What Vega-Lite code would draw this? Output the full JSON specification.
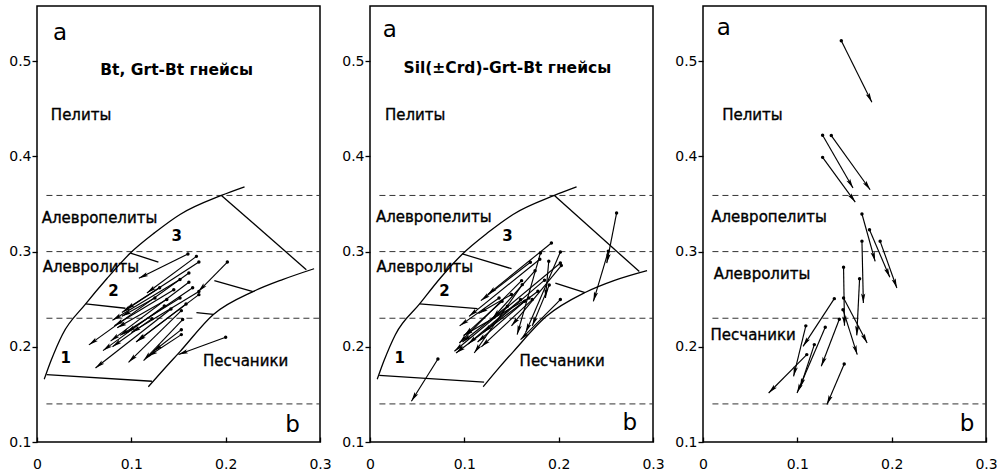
{
  "$schema": "https://vega.github.io/schema/vega-lite/v6.json",
  "background": "white",
  "padding": {"left": 7, "top": 5, "right": 0, "bottom": 0},
  "config": {
    "font": "DejaVu Sans",
    "view": {"stroke": "black", "strokeWidth": 1.5},
    "axis": {"grid": false, "domain": false, "title": null, "labelColor": "black", "tickColor": "black", "labelFont": "DejaVu Sans", "labelFontSize": 14, "tickWidth": 1.3}
  },
  "data": {"values": [
    {"panel": "p1", "kind": "dash", "x": 0.01, "x2": 0.3, "y": 0.359},
    {"panel": "p1", "kind": "dash", "x": 0.01, "x2": 0.3, "y": 0.3},
    {"panel": "p1", "kind": "dash", "x": 0.01, "x2": 0.165, "y": 0.23},
    {"panel": "p1", "kind": "dash", "x": 0.187, "x2": 0.3, "y": 0.23},
    {"panel": "p1", "kind": "dash", "x": 0.01, "x2": 0.3, "y": 0.14},
    {"panel": "p2", "kind": "dash", "x": 0.01, "x2": 0.3, "y": 0.359},
    {"panel": "p2", "kind": "dash", "x": 0.01, "x2": 0.3, "y": 0.3},
    {"panel": "p2", "kind": "dash", "x": 0.01, "x2": 0.3, "y": 0.23},
    {"panel": "p2", "kind": "dash", "x": 0.01, "x2": 0.3, "y": 0.14},
    {"panel": "p3", "kind": "dash", "x": 0.01, "x2": 0.3, "y": 0.359},
    {"panel": "p3", "kind": "dash", "x": 0.01, "x2": 0.3, "y": 0.3},
    {"panel": "p3", "kind": "dash", "x": 0.01, "x2": 0.167, "y": 0.23},
    {"panel": "p3", "kind": "dash", "x": 0.179, "x2": 0.3, "y": 0.23},
    {"panel": "p3", "kind": "dash", "x": 0.01, "x2": 0.3, "y": 0.14},

    {"panel": "p1", "kind": "poly", "seg": "up", "ord": 1, "x": 0.0077, "y": 0.166},
    {"panel": "p1", "kind": "poly", "seg": "up", "ord": 2, "x": 0.0147, "y": 0.185},
    {"panel": "p1", "kind": "poly", "seg": "up", "ord": 3, "x": 0.027, "y": 0.213},
    {"panel": "p1", "kind": "poly", "seg": "up", "ord": 4, "x": 0.0516, "y": 0.245},
    {"panel": "p1", "kind": "poly", "seg": "up", "ord": 5, "x": 0.0744, "y": 0.272},
    {"panel": "p1", "kind": "poly", "seg": "up", "ord": 6, "x": 0.099, "y": 0.2985},
    {"panel": "p1", "kind": "poly", "seg": "up", "ord": 7, "x": 0.125, "y": 0.32},
    {"panel": "p1", "kind": "poly", "seg": "up", "ord": 8, "x": 0.1516, "y": 0.339},
    {"panel": "p1", "kind": "poly", "seg": "up", "ord": 9, "x": 0.1955, "y": 0.359},
    {"panel": "p1", "kind": "poly", "seg": "up", "ord": 10, "x": 0.22, "y": 0.368},
    {"panel": "p1", "kind": "poly", "seg": "bot", "ord": 1, "x": 0.0102, "y": 0.1708},
    {"panel": "p1", "kind": "poly", "seg": "bot", "ord": 2, "x": 0.1218, "y": 0.1638},
    {"panel": "p1", "kind": "poly", "seg": "low", "ord": 1, "x": 0.118, "y": 0.158},
    {"panel": "p1", "kind": "poly", "seg": "low", "ord": 2, "x": 0.135, "y": 0.177},
    {"panel": "p1", "kind": "poly", "seg": "low", "ord": 3, "x": 0.1516, "y": 0.195},
    {"panel": "p1", "kind": "poly", "seg": "low", "ord": 4, "x": 0.187, "y": 0.234},
    {"panel": "p1", "kind": "poly", "seg": "low", "ord": 5, "x": 0.229, "y": 0.258},
    {"panel": "p1", "kind": "poly", "seg": "low", "ord": 6, "x": 0.2603, "y": 0.2706},
    {"panel": "p1", "kind": "poly", "seg": "low", "ord": 7, "x": 0.2937, "y": 0.282},
    {"panel": "p1", "kind": "poly", "seg": "right", "ord": 1, "x": 0.1955, "y": 0.359},
    {"panel": "p1", "kind": "poly", "seg": "right", "ord": 2, "x": 0.2855, "y": 0.281},
    {"panel": "p1", "kind": "poly", "seg": "d1", "ord": 1, "x": 0.099, "y": 0.2985},
    {"panel": "p1", "kind": "poly", "seg": "d1", "ord": 2, "x": 0.1287, "y": 0.289},
    {"panel": "p1", "kind": "poly", "seg": "d2", "ord": 1, "x": 0.0516, "y": 0.245},
    {"panel": "p1", "kind": "poly", "seg": "d2", "ord": 2, "x": 0.0937, "y": 0.2405},
    {"panel": "p1", "kind": "poly", "seg": "d3", "ord": 1, "x": 0.229, "y": 0.258},
    {"panel": "p1", "kind": "poly", "seg": "d3", "ord": 2, "x": 0.188, "y": 0.2695},
    {"panel": "p1", "kind": "poly", "seg": "d4", "ord": 1, "x": 0.187, "y": 0.234},
    {"panel": "p1", "kind": "poly", "seg": "d4", "ord": 2, "x": 0.169, "y": 0.236},

    {"panel": "p2", "kind": "poly", "seg": "up", "ord": 1, "x": 0.0077, "y": 0.166},
    {"panel": "p2", "kind": "poly", "seg": "up", "ord": 2, "x": 0.0147, "y": 0.185},
    {"panel": "p2", "kind": "poly", "seg": "up", "ord": 3, "x": 0.027, "y": 0.213},
    {"panel": "p2", "kind": "poly", "seg": "up", "ord": 4, "x": 0.0526, "y": 0.245},
    {"panel": "p2", "kind": "poly", "seg": "up", "ord": 5, "x": 0.0744, "y": 0.272},
    {"panel": "p2", "kind": "poly", "seg": "up", "ord": 6, "x": 0.098, "y": 0.2975},
    {"panel": "p2", "kind": "poly", "seg": "up", "ord": 7, "x": 0.125, "y": 0.32},
    {"panel": "p2", "kind": "poly", "seg": "up", "ord": 8, "x": 0.1516, "y": 0.339},
    {"panel": "p2", "kind": "poly", "seg": "up", "ord": 9, "x": 0.1955, "y": 0.359},
    {"panel": "p2", "kind": "poly", "seg": "up", "ord": 10, "x": 0.219, "y": 0.368},
    {"panel": "p2", "kind": "poly", "seg": "bot", "ord": 1, "x": 0.0098, "y": 0.17},
    {"panel": "p2", "kind": "poly", "seg": "bot", "ord": 2, "x": 0.121, "y": 0.163},
    {"panel": "p2", "kind": "poly", "seg": "low", "ord": 1, "x": 0.12, "y": 0.158},
    {"panel": "p2", "kind": "poly", "seg": "low", "ord": 2, "x": 0.136, "y": 0.177},
    {"panel": "p2", "kind": "poly", "seg": "low", "ord": 3, "x": 0.152, "y": 0.195},
    {"panel": "p2", "kind": "poly", "seg": "low", "ord": 4, "x": 0.187, "y": 0.232},
    {"panel": "p2", "kind": "poly", "seg": "low", "ord": 5, "x": 0.228, "y": 0.257},
    {"panel": "p2", "kind": "poly", "seg": "low", "ord": 6, "x": 0.26, "y": 0.27},
    {"panel": "p2", "kind": "poly", "seg": "low", "ord": 7, "x": 0.2937, "y": 0.28},
    {"panel": "p2", "kind": "poly", "seg": "right", "ord": 1, "x": 0.1955, "y": 0.359},
    {"panel": "p2", "kind": "poly", "seg": "right", "ord": 2, "x": 0.2855, "y": 0.279},
    {"panel": "p2", "kind": "poly", "seg": "d1", "ord": 1, "x": 0.098, "y": 0.2975},
    {"panel": "p2", "kind": "poly", "seg": "d1", "ord": 2, "x": 0.15, "y": 0.282},
    {"panel": "p2", "kind": "poly", "seg": "d2", "ord": 1, "x": 0.0526, "y": 0.245},
    {"panel": "p2", "kind": "poly", "seg": "d2", "ord": 2, "x": 0.114, "y": 0.24},
    {"panel": "p2", "kind": "poly", "seg": "d3", "ord": 1, "x": 0.228, "y": 0.257},
    {"panel": "p2", "kind": "poly", "seg": "d3", "ord": 2, "x": 0.1965, "y": 0.267},

    {"panel": "p1", "kind": "arrow", "x": 0.160, "y": 0.2975, "x2": 0.108, "y2": 0.272},
    {"panel": "p1", "kind": "arrow", "x": 0.169, "y": 0.295, "x2": 0.1165, "y2": 0.2565},
    {"panel": "p1", "kind": "arrow", "x": 0.1716, "y": 0.289, "x2": 0.0937, "y2": 0.239},
    {"panel": "p1", "kind": "arrow", "x": 0.2018, "y": 0.289, "x2": 0.171, "y2": 0.258},
    {"panel": "p1", "kind": "arrow", "x": 0.161, "y": 0.2775, "x2": 0.055, "y2": 0.202},
    {"panel": "p1", "kind": "arrow", "x": 0.1516, "y": 0.2706, "x2": 0.080, "y2": 0.228},
    {"panel": "p1", "kind": "arrow", "x": 0.161, "y": 0.2678, "x2": 0.078, "y2": 0.206},
    {"panel": "p1", "kind": "arrow", "x": 0.1716, "y": 0.258, "x2": 0.100, "y2": 0.215},
    {"panel": "p1", "kind": "arrow", "x": 0.1716, "y": 0.2548, "x2": 0.106, "y2": 0.206},
    {"panel": "p1", "kind": "arrow", "x": 0.1516, "y": 0.2513, "x2": 0.088, "y2": 0.212},
    {"panel": "p1", "kind": "arrow", "x": 0.1376, "y": 0.2496, "x2": 0.085, "y2": 0.220},
    {"panel": "p1", "kind": "arrow", "x": 0.125, "y": 0.2513, "x2": 0.090, "y2": 0.232},
    {"panel": "p1", "kind": "arrow", "x": 0.153, "y": 0.238, "x2": 0.097, "y2": 0.1837},
    {"panel": "p1", "kind": "arrow", "x": 0.142, "y": 0.2397, "x2": 0.062, "y2": 0.1777},
    {"panel": "p1", "kind": "arrow", "x": 0.122, "y": 0.2296, "x2": 0.080, "y2": 0.200},
    {"panel": "p1", "kind": "arrow", "x": 0.1544, "y": 0.2286, "x2": 0.113, "y2": 0.1855},
    {"panel": "p1", "kind": "arrow", "x": 0.153, "y": 0.218, "x2": 0.1235, "y2": 0.1953},
    {"panel": "p1", "kind": "arrow", "x": 0.153, "y": 0.2128, "x2": 0.118, "y2": 0.190},
    {"panel": "p1", "kind": "arrow", "x": 0.200, "y": 0.210, "x2": 0.150, "y2": 0.192},
    {"panel": "p1", "kind": "arrow", "x": 0.145, "y": 0.260, "x2": 0.082, "y2": 0.222},
    {"panel": "p1", "kind": "arrow", "x": 0.135, "y": 0.243, "x2": 0.070, "y2": 0.196},
    {"panel": "p1", "kind": "arrow", "x": 0.165, "y": 0.262, "x2": 0.095, "y2": 0.215},
    {"panel": "p1", "kind": "arrow", "x": 0.158, "y": 0.245, "x2": 0.105, "y2": 0.205},
    {"panel": "p1", "kind": "arrow", "x": 0.130, "y": 0.262, "x2": 0.090, "y2": 0.236},

    {"panel": "p2", "kind": "arrow", "x": 0.1923, "y": 0.309, "x2": 0.1246, "y2": 0.2548},
    {"panel": "p2", "kind": "arrow", "x": 0.1807, "y": 0.2985, "x2": 0.156, "y2": 0.2128},
    {"panel": "p2", "kind": "arrow", "x": 0.2018, "y": 0.2996, "x2": 0.165, "y2": 0.215},
    {"panel": "p2", "kind": "arrow", "x": 0.170, "y": 0.2888, "x2": 0.1175, "y2": 0.2485},
    {"panel": "p2", "kind": "arrow", "x": 0.1895, "y": 0.2899, "x2": 0.186, "y2": 0.2513},
    {"panel": "p2", "kind": "arrow", "x": 0.2018, "y": 0.2881, "x2": 0.0895, "y2": 0.1953},
    {"panel": "p2", "kind": "arrow", "x": 0.2028, "y": 0.2853, "x2": 0.150, "y2": 0.222},
    {"panel": "p2", "kind": "arrow", "x": 0.1607, "y": 0.2695, "x2": 0.0947, "y2": 0.204},
    {"panel": "p2", "kind": "arrow", "x": 0.1614, "y": 0.2653, "x2": 0.1105, "y2": 0.1935},
    {"panel": "p2", "kind": "arrow", "x": 0.178, "y": 0.2583, "x2": 0.0912, "y2": 0.1935},
    {"panel": "p2", "kind": "arrow", "x": 0.1684, "y": 0.2513, "x2": 0.099, "y2": 0.212},
    {"panel": "p2", "kind": "arrow", "x": 0.1596, "y": 0.2496, "x2": 0.104, "y2": 0.203},
    {"panel": "p2", "kind": "arrow", "x": 0.1368, "y": 0.2513, "x2": 0.095, "y2": 0.222},
    {"panel": "p2", "kind": "arrow", "x": 0.140, "y": 0.2478, "x2": 0.100, "y2": 0.212},
    {"panel": "p2", "kind": "arrow", "x": 0.172, "y": 0.2496, "x2": 0.118, "y2": 0.200},
    {"panel": "p2", "kind": "arrow", "x": 0.164, "y": 0.2478, "x2": 0.114, "y2": 0.205},
    {"panel": "p2", "kind": "arrow", "x": 0.1456, "y": 0.2426, "x2": 0.098, "y2": 0.205},
    {"panel": "p2", "kind": "arrow", "x": 0.2018, "y": 0.2496, "x2": 0.1596, "y2": 0.2075},
    {"panel": "p2", "kind": "arrow", "x": 0.2526, "y": 0.3003, "x2": 0.2368, "y2": 0.2478},
    {"panel": "p2", "kind": "arrow", "x": 0.2614, "y": 0.3405, "x2": 0.251, "y2": 0.288},
    {"panel": "p2", "kind": "arrow", "x": 0.072, "y": 0.1872, "x2": 0.0439, "y2": 0.1428},
    {"panel": "p2", "kind": "arrow", "x": 0.185, "y": 0.270, "x2": 0.120, "y2": 0.215},
    {"panel": "p2", "kind": "arrow", "x": 0.175, "y": 0.280, "x2": 0.130, "y2": 0.230},
    {"panel": "p2", "kind": "arrow", "x": 0.150, "y": 0.255, "x2": 0.115, "y2": 0.235},
    {"panel": "p2", "kind": "arrow", "x": 0.180, "y": 0.292, "x2": 0.105, "y2": 0.232},
    {"panel": "p2", "kind": "arrow", "x": 0.190, "y": 0.265, "x2": 0.172, "y2": 0.222},

    {"panel": "p3", "kind": "arrow", "x": 0.1466, "y": 0.5216, "x2": 0.179, "y2": 0.457},
    {"panel": "p3", "kind": "arrow", "x": 0.1268, "y": 0.4222, "x2": 0.159, "y2": 0.3668},
    {"panel": "p3", "kind": "arrow", "x": 0.136, "y": 0.4219, "x2": 0.1772, "y2": 0.365},
    {"panel": "p3", "kind": "arrow", "x": 0.1268, "y": 0.399, "x2": 0.1614, "y2": 0.352},
    {"panel": "p3", "kind": "arrow", "x": 0.1685, "y": 0.3395, "x2": 0.1825, "y2": 0.2898},
    {"panel": "p3", "kind": "arrow", "x": 0.1765, "y": 0.323, "x2": 0.198, "y2": 0.273},
    {"panel": "p3", "kind": "arrow", "x": 0.1878, "y": 0.3108, "x2": 0.2055, "y2": 0.2618},
    {"panel": "p3", "kind": "arrow", "x": 0.1685, "y": 0.311, "x2": 0.170, "y2": 0.246},
    {"panel": "p3", "kind": "arrow", "x": 0.149, "y": 0.2835, "x2": 0.150, "y2": 0.222},
    {"panel": "p3", "kind": "arrow", "x": 0.166, "y": 0.2716, "x2": 0.163, "y2": 0.212},
    {"panel": "p3", "kind": "arrow", "x": 0.149, "y": 0.2513, "x2": 0.174, "y2": 0.204},
    {"panel": "p3", "kind": "arrow", "x": 0.1484, "y": 0.239, "x2": 0.1635, "y2": 0.1918},
    {"panel": "p3", "kind": "arrow", "x": 0.1445, "y": 0.229, "x2": 0.1254, "y2": 0.1795},
    {"panel": "p3", "kind": "arrow", "x": 0.1392, "y": 0.2506, "x2": 0.1061, "y2": 0.2005},
    {"panel": "p3", "kind": "arrow", "x": 0.109, "y": 0.222, "x2": 0.096, "y2": 0.169},
    {"panel": "p3", "kind": "arrow", "x": 0.1296, "y": 0.2205, "x2": 0.0997, "y2": 0.1515},
    {"panel": "p3", "kind": "arrow", "x": 0.118, "y": 0.2023, "x2": 0.103, "y2": 0.157},
    {"panel": "p3", "kind": "arrow", "x": 0.110, "y": 0.1918, "x2": 0.0696, "y2": 0.1515},
    {"panel": "p3", "kind": "arrow", "x": 0.1497, "y": 0.182, "x2": 0.1314, "y2": 0.1393},

    {"panel": "p1", "kind": "corner", "x": 0.0245, "y": 0.53, "text": "a"},
    {"panel": "p1", "kind": "corner", "x": 0.271, "y": 0.118, "text": "b"},
    {"panel": "p2", "kind": "corner", "x": 0.021, "y": 0.533, "text": "a"},
    {"panel": "p2", "kind": "corner", "x": 0.2755, "y": 0.12, "text": "b"},
    {"panel": "p3", "kind": "corner", "x": 0.022, "y": 0.535, "text": "a"},
    {"panel": "p3", "kind": "corner", "x": 0.28, "y": 0.119, "text": "b"},
    {"panel": "p1", "kind": "title", "x": 0.148, "y": 0.491, "text": "Bt, Grt-Bt гнейсы"},
    {"panel": "p2", "kind": "title", "x": 0.1456, "y": 0.493, "text": "Sil(±Crd)-Grt-Bt гнейсы"},
    {"panel": "p1", "kind": "region", "x": 0.0147, "y": 0.444, "text": "Пелиты"},
    {"panel": "p1", "kind": "region", "x": 0.005, "y": 0.335, "text": "Алевропелиты"},
    {"panel": "p1", "kind": "region", "x": 0.006, "y": 0.2838, "text": "Алевролиты"},
    {"panel": "p1", "kind": "region", "x": 0.176, "y": 0.1855, "text": "Песчаники"},
    {"panel": "p2", "kind": "region", "x": 0.0158, "y": 0.444, "text": "Пелиты"},
    {"panel": "p2", "kind": "region", "x": 0.0063, "y": 0.336, "text": "Алевропелиты"},
    {"panel": "p2", "kind": "region", "x": 0.007, "y": 0.2835, "text": "Алевролиты"},
    {"panel": "p2", "kind": "region", "x": 0.1586, "y": 0.1855, "text": "Песчаники"},
    {"panel": "p3", "kind": "region", "x": 0.0203, "y": 0.444, "text": "Пелиты"},
    {"panel": "p3", "kind": "region", "x": 0.0087, "y": 0.336, "text": "Алевропелиты"},
    {"panel": "p3", "kind": "region", "x": 0.0114, "y": 0.2765, "text": "Алевролиты"},
    {"panel": "p3", "kind": "region", "x": 0.008, "y": 0.2128, "text": "Песчаники"},
    {"panel": "p1", "kind": "num", "x": 0.0305, "y": 0.188, "text": "1"},
    {"panel": "p1", "kind": "num", "x": 0.081, "y": 0.259, "text": "2"},
    {"panel": "p1", "kind": "num", "x": 0.148, "y": 0.316, "text": "3"},
    {"panel": "p2", "kind": "num", "x": 0.0316, "y": 0.188, "text": "1"},
    {"panel": "p2", "kind": "num", "x": 0.079, "y": 0.259, "text": "2"},
    {"panel": "p2", "kind": "num", "x": 0.1456, "y": 0.316, "text": "3"}
  ]},
  "facet": {"column": {"field": "panel", "type": "nominal", "header": {"title": null, "labels": false}}},
  "spacing": 50,
  "bounds": "flush",
  "resolve": {"axis": {"y": "independent"}},
  "spec": {
    "width": 283,
    "height": 436,
    "encoding": {
      "x": {"field": "x", "type": "quantitative", "scale": {"domain": [0, 0.3], "nice": false, "zero": false},
        "axis": {"values": [0, 0.1, 0.2, 0.3], "format": ".1~f", "tickSize": -5, "labelPadding": 20, "labelFlush": false,
          "encode": {"labels": {"update": {"stroke": {"value": "black"}, "strokeWidth": {"value": 0.3}}}}}},
      "y": {"field": "y", "type": "quantitative", "scale": {"domain": [0.1, 0.558], "nice": false, "zero": false},
        "axis": {"values": [0.1, 0.2, 0.3, 0.4, 0.5], "format": ".1f", "tickSize": 5, "labelPadding": 1, "labelFlush": false,
          "encode": {"labels": {"update": {"stroke": {"value": "black"}, "strokeWidth": {"value": 0.3}}}}}}
    },
    "layer": [
      {
        "transform": [{"filter": "datum.kind === 'dash'"}],
        "mark": {"type": "rule", "color": "#333333", "strokeWidth": 1, "strokeDash": [6, 4]},
        "encoding": {"x2": {"field": "x2"}}
      },
      {
        "transform": [{"filter": "datum.kind === 'poly'"}],
        "mark": {"type": "line", "color": "black", "strokeWidth": 1.3, "interpolate": "monotone"},
        "encoding": {"detail": {"field": "seg", "type": "nominal"}, "order": {"field": "ord", "type": "quantitative"}}
      },
      {
        "transform": [{"filter": "datum.kind === 'arrow'"}],
        "mark": {"type": "rule", "color": "black", "strokeWidth": 1.15},
        "encoding": {"x2": {"field": "x2"}, "y2": {"field": "y2"}}
      },
      {
        "transform": [{"filter": "datum.kind === 'arrow'"}],
        "mark": {"type": "point", "filled": true, "color": "black", "size": 12, "opacity": 1},
        "encoding": {}
      },
      {
        "transform": [
          {"filter": "datum.kind === 'arrow'"},
          {"calculate": "atan2((datum.x2 - datum.x) * 943, (datum.y2 - datum.y) * 952) * 180 / PI", "as": "ang"}
        ],
        "mark": {"type": "point", "shape": "M0,0L-0.45,2L0,1.6L0.45,2Z", "filled": true, "color": "black", "size": 90, "opacity": 1},
        "encoding": {
          "x": {"field": "x2", "type": "quantitative"},
          "y": {"field": "y2", "type": "quantitative"},
          "angle": {"field": "ang", "type": "quantitative", "scale": null}
        }
      },
      {
        "transform": [{"filter": "datum.kind === 'corner'"}],
        "mark": {"type": "text", "font": "DejaVu Sans", "fontSize": 23, "align": "center", "baseline": "middle", "color": "black"},
        "encoding": {"text": {"field": "text"}}
      },
      {
        "transform": [{"filter": "datum.kind === 'title'"}],
        "mark": {"type": "text", "font": "DejaVu Sans", "fontSize": 15.5, "fontWeight": "bold", "align": "center", "baseline": "middle", "color": "black"},
        "encoding": {"text": {"field": "text"}}
      },
      {
        "transform": [{"filter": "datum.kind === 'region'"}],
        "mark": {"type": "text", "font": "DejaVu Sans", "fontSize": 15, "align": "left", "baseline": "middle", "fill": "black", "stroke": "black", "strokeWidth": 0.35},
        "encoding": {"text": {"field": "text"}}
      },
      {
        "transform": [{"filter": "datum.kind === 'num'"}],
        "mark": {"type": "text", "font": "DejaVu Sans", "fontSize": 15, "fontWeight": "bold", "align": "center", "baseline": "middle", "color": "black"},
        "encoding": {"text": {"field": "text"}}
      }
    ]
  }
}
